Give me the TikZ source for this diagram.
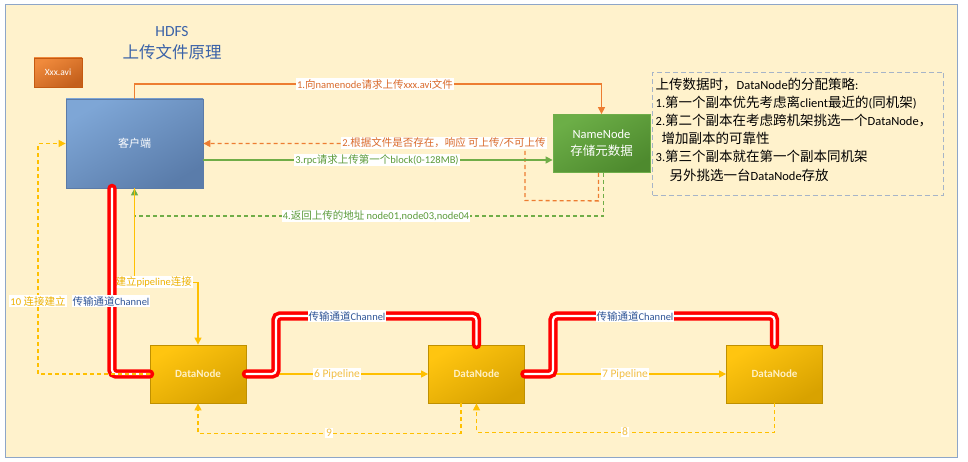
\documentclass[tikz,border=0pt]{standalone}
\usepackage{fontspec}
\setmainfont{Carlito}
\newfontfamily\cjk{Noto Sans CJK SC}
\newcommand\zh[1]{{\cjk #1}}
\newcommand\zhb[1]{{\cjk\fontsize{13.5}{18.2}\selectfont #1}}
\usetikzlibrary{arrows.meta}
\definecolor{cream}{HTML}{FFF2CC}
\definecolor{framec}{HTML}{8EA6C8}
\definecolor{orgline}{HTML}{ED7D31}
\definecolor{orgtext}{HTML}{D9692A}
\definecolor{grnline}{HTML}{70AD47}
\definecolor{grntext}{HTML}{5B9B3A}
\definecolor{ylwline}{HTML}{FFC000}
\definecolor{ylwtext}{HTML}{EDB100}
\definecolor{ylwpale}{HTML}{F2BF45}
\definecolor{chblue}{HTML}{2F5597}
\definecolor{titleblue}{HTML}{3A62A8}
\definecolor{polc}{HTML}{A6B4C8}
\definecolor{cliD}{HTML}{5B7BA8}
\definecolor{cliA}{HTML}{7EA6D6}
\definecolor{cliB}{HTML}{5A7CAA}
\definecolor{nnD}{HTML}{6FAE4A}
\definecolor{nnA}{HTML}{6CAE47}
\definecolor{nnB}{HTML}{4E8A2E}
\definecolor{dnD}{HTML}{BF9000}
\definecolor{dnA}{HTML}{FFC510}
\definecolor{dnB}{HTML}{D8A200}
\definecolor{dnT}{HTML}{FFF0C4}
\definecolor{aviD}{HTML}{C55A11}
\definecolor{aviA}{HTML}{F08A3C}
\definecolor{aviB}{HTML}{C4601C}
\begin{document}
\begin{tikzpicture}[x=1pt,y=-1pt,
  tip/.style={-{Triangle[length=7pt,width=7pt]}},
  solidarrow/.style={tip, line width=1.3pt},
  dasharrow/.style={tip, line width=1.3pt, dash pattern=on 4pt off 3pt},
  lbl/.style={fill=white, inner sep=1pt, font=\fontsize{10.5}{12}\selectfont},
  boxbase/.style={inner sep=0pt, line width=0.8pt, text=white},
  clientbox/.style={boxbase, draw=cliD, minimum width=137pt, minimum height=89pt,
     top color=cliA, bottom color=cliB, shading angle=30, font=\fontsize{11}{13}\selectfont},
  nnbox/.style={boxbase, draw=nnD, minimum width=97pt, minimum height=58pt, align=center,
     top color=nnA, bottom color=nnB, shading angle=30, font=\fontsize{12.5}{17}\selectfont},
  dnbox/.style={boxbase, draw=dnD, minimum width=96pt, minimum height=58pt,
     top color=dnA, bottom color=dnB, shading angle=30, text=dnT,
     font=\fontsize{11}{13}\selectfont\bfseries},
  avibox/.style={boxbase, draw=aviD, minimum width=48pt, minimum height=29pt,
     top color=aviA, bottom color=aviB, shading angle=30, font=\fontsize{9.5}{11}\selectfont},
  channel/.style={draw=red, line width=3.6pt, double=white, double distance=2.2pt,
     rounded corners=4pt, line cap=round},
  chlbl/.style={fill=white, inner sep=1pt, text=chblue, font=\fontsize{10.5}{12}\selectfont},
  policy/.style={draw=polc, line width=1pt, dash pattern=on 5pt off 3pt, minimum width=291pt,
     minimum height=123pt, inner sep=0pt},
  poltext/.style={inner sep=0pt, align=left, font=\fontsize{12.5}{18.2}\selectfont}
]
\path[use as bounding box, fill=white] (0,0) rectangle (968,462);
\draw[framec, fill=cream, line width=1pt] (5,5) rectangle (957,457);

% title
\node[text=titleblue, font=\fontsize{15.5}{17}\selectfont] (t1) at (172,32) {HDFS};
\node[text=titleblue, font=\cjk\fontsize{16.5}{18}\selectfont] (t2) at (172,52) {上传文件原理};

% boxes
\node[avibox] (avi) at (58,72.5) {Xxx.avi};
\node[clientbox] (client) at (134.5,143.5) {\zh{客户端}};
\node[nnbox] (nn) at (601.5,143.5) {NameNode\\\zh{存储元数据}};
\node[dnbox] (dn1) at (198,374) {DataNode};
\node[dnbox] (dn2) at (476.5,374) {DataNode};
\node[dnbox] (dn3) at (774.5,374) {DataNode};

% policy
\node[policy, anchor=north west] (pol) at (652,72) {};
\node[poltext, anchor=north west] (poltx) at (655.5,77.5) {%
\zhb{上传数据时，}DataNode\zhb{的分配策略}:\\
1.\zhb{第一个副本优先考虑离}client\zhb{最近的}(\zhb{同机架})\\
2.\zhb{第二个副本在考虑跨机架挑选一个}DataNode\zhb{，}\\
\hspace*{6pt}\zhb{增加副本的可靠性}\\
3.\zhb{第三个副本就在第一个副本同机架}\\
\hspace*{14pt}\zhb{另外挑选一台}DataNode\zhb{存放}};

% 1
\draw[solidarrow, orgline] (client.north) -- (134.5,84) -| (nn.north);
\node[lbl, text=orgtext] (l1) at (375,84) {1.\zh{向}namenode\zh{请求上传}xxx.avi\zh{文件}};
% 2
\draw[dasharrow, orgline] ([xshift=-3pt]nn.south) -- ++(0,28) -- (525,200.5) -- (525,143.5) -- (client.east);
\node[lbl, text=orgtext] (l2) at (444,143) {2.\zh{根据文件是否存在，响应} \zh{可上传}/\zh{不可上传}};
% 3
\draw[solidarrow, grnline] (client.east |- 0,160) -- (nn.west |- 0,160);
\node[lbl, text=grntext] (l3) at (377,160) {3.rpc\zh{请求上传第一个}block(0-128MB)};
% 4
\draw[dasharrow, grnline] ([xshift=2pt]nn.south) -- ++(0,43) -| (client.south);
\node[lbl, text=grntext] (l4) at (376,216) {4.\zh{返回上传的地址} node01,node03,node04};
% 5
\draw[solidarrow, ylwline] (client.south) -- ++(0,94) -| (dn1.north);
\node[lbl, text=ylwtext] (l5) at (151,282) {5\zh{建立}pipeline\zh{连接}};

% 6, 7
\draw[solidarrow, ylwline] (dn1.east) -- (dn2.west);
\node[lbl, text=ylwpale, font=\fontsize{11.5}{13}\selectfont] (l6) at (337,374) {6 Pipeline};
\draw[solidarrow, ylwline] (dn2.east) -- (dn3.west);
\node[lbl, text=ylwpale, font=\fontsize{11.5}{13}\selectfont] (l7) at (625,374) {7 Pipeline};
% 8, 9
\draw[dasharrow, ylwline] (dn3.south) -- ++(0,29) -| (dn2.south);
\node[lbl, text=ylwpale, font=\fontsize{11.5}{13}\selectfont] (l8) at (625,432) {8};
\draw[dasharrow, ylwline] ([xshift=-15.5pt]dn2.south) -- ++(0,30) -| (dn1.south);
\node[lbl, text=ylwpale, font=\fontsize{11.5}{13}\selectfont] (l9) at (329,433) {9};

% channels
\draw[channel] ([xshift=-22.5pt]client.south) -- (112,374) -- (dn1.west);
\draw[channel] (dn1.east) -- (276,374) -- (276,316) -- (476.5,316) -- (dn2.north);
\draw[channel] (dn2.east) -- (553,374) -- (553,316) -- (774.5,316) -- (dn3.north);
\node[chlbl] (c1) at (111,301) {\zh{传输通道}Channel};
\node[chlbl] (c2) at (347,316) {\zh{传输通道}Channel};
\node[chlbl] (c3) at (635,316) {\zh{传输通道}Channel};

% 10
\draw[dasharrow, ylwline] (dn1.west) -- (38,374) -- (38,143.5) -- (client.west);
\node[lbl, text=ylwtext] (l10) at (38,301) {10 \zh{连接建立}};
\end{tikzpicture}
\end{document}
